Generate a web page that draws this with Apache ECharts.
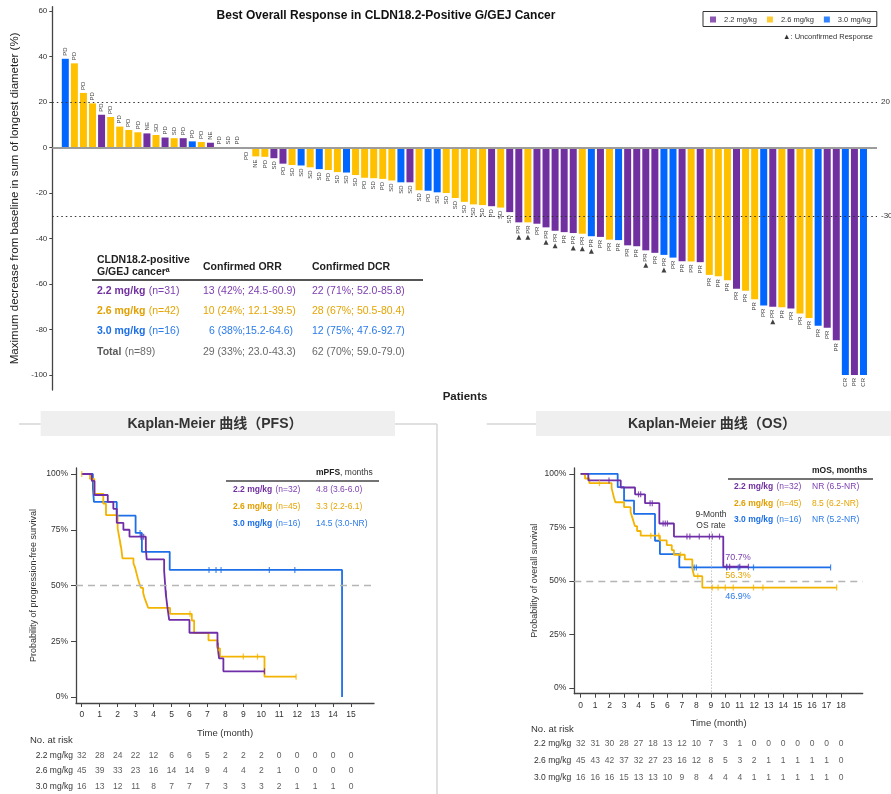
<!DOCTYPE html>
<html>
<head>
<meta charset="utf-8">
<script src="https://cdn.jsdelivr.net/npm/echarts@6/dist/echarts.min.js"></script>
<style>
html,body{margin:0;padding:0;background:#fff;}
#c{width:891px;height:794px;}
</style>
</head>
<body>
<div id="c"></div>
<script>
// ---------------- DATA ----------------
// Waterfall: best % change from baseline, ordered as in the figure
const bestChange = [39, 37, 24, 19.4, 14.4, 13.4, 9.2, 7.7, 6.7, 6.2,
  5.5, 4.4, 4.1, 4.1, 2.7, 2.4, 2.1, 0, 0, 0,
  -0.5, -3.9, -4.1, -4.7, -7.1, -7.7, -7.9, -8.7, -9.5, -9.9,
  -10.8, -11.0, -12.1, -13.3, -13.5, -13.8, -14.5, -15.3, -15.3, -18.8,
  -19.0, -19.7, -20.0, -22.2, -23.9, -25.0, -25.3, -25.8, -26.4, -28.4,
  -32.9, -32.9, -33.5, -35.1, -36.6, -37.2, -37.6, -37.9, -39.0, -39.3,
  -40.5, -40.7, -43.0, -43.4, -45.2, -46.3, -47.2, -48.4, -50.0, -50.1,
  -50.4, -56.0, -56.6, -58.3, -62.1, -63.0, -66.7, -69.5, -70.0, -70.2,
  -70.8, -73.0, -74.9, -78.4, -79.2, -84.7, -100, -100, -100];
const doseOfPatient = ['3.0','2.6','2.6','2.6','2.2','2.6','2.6','2.6','2.6','2.2',
  '2.6','2.2','2.6','2.2','3.0','2.6','2.2','2.2','2.6','2.6',
  '2.2','2.6','2.6','2.2','2.2','2.6','3.0','2.6','3.0','2.6',
  '2.6','3.0','2.6','2.6','2.6','2.6','2.6','3.0','2.2','2.6',
  '3.0','3.0','2.6','2.6','2.6','2.6','2.6','2.2','2.6','2.2',
  '2.2','2.6','2.2','2.2','2.2','2.2','2.2','2.6','3.0','2.2',
  '2.6','3.0','2.2','2.2','2.2','2.2','3.0','3.0','2.2','2.6',
  '2.2','2.6','2.6','2.6','2.2','2.6','2.6','3.0','2.2','2.6',
  '2.2','2.6','2.6','3.0','2.2','2.2','3.0','2.2','3.0'];
const bestResponse = ['PD','PD','PD','PD','PD','PD','PD','PD','PD','NE',
  'SD','PD','SD','PD','PD','PD','NE','PD','SD','PD',
  'PD','NE','PD','SD','PD','SD','SD','SD','SD','PD',
  'SD','SD','SD','PD','SD','PD','SD','SD','SD','SD',
  'PD','SD','SD','SD','SD','SD','SD','PD','SD','SD',
  'PR','PR','PR','PR','PR','PR','PR','PR','PR','PR',
  'PR','PR','PR','PR','PR','PR','PR','PR','PR','PR',
  'PR','PR','PR','PR','PR','PR','PR','PR','PR','PR',
  'PR','PR','PR','PR','PR','PR','CR','PR','CR'];
const unconfirmedPatients = [51, 52, 54, 55, 57, 58, 59, 65, 67, 79];
const doseNames = ['2.2 mg/kg', '2.6 mg/kg', '3.0 mg/kg'];
const waterfallTicks = [60, 40, 20, 0, -20, -40, -60, -80, -100];
const thresholdLines = [20, -30];

// Response table
const tableHeader = ['Confirmed ORR', 'Confirmed DCR'];
const tableRowDose = ['2.2 mg/kg', '2.6 mg/kg', '3.0 mg/kg', 'Total'];
const tableRowN = ['(n=31)', '(n=42)', '(n=16)', '(n=89)'];
const tableORR = ['13 (42%; 24.5-60.9)', '10 (24%; 12.1-39.5)', '6 (38%;15.2-64.6)', '29 (33%; 23.0-43.3)'];
const tableDCR = ['22 (71%; 52.0-85.8)', '28 (67%; 50.5-80.4)', '12 (75%; 47.6-92.7)', '62 (70%; 59.0-79.0)'];

// Kaplan-Meier PFS  [month, survival %]
const pfs22 = [[0,100],[0.56,96.9],[0.71,90.6],[1.45,87.5],[1.76,84.4],[1.95,78.1],[2.32,75.0],[2.66,71.9],[3.57,66.3],[3.62,61.7],[4.59,56.6],[4.68,46.4],[4.77,40.4],[4.87,34.6],[6.0,28.8],[7.56,23.0],[7.65,17.3],[7.89,11.5],[10.18,11.5]];
const pfs22Cens = [[3.3,71.9],[3.45,71.9],[4.7,46.4],[7.6,23.0],[10.18,11.5]];
const pfs26 = [[0,100],[0.46,97.8],[0.7,91.1],[1.2,86.7],[1.35,81.6],[2.0,75.6],[2.1,71.1],[2.2,66.7],[2.27,62.2],[2.88,60.0],[2.98,57.8],[3.05,55.5],[3.12,53.3],[3.2,51.1],[3.3,48.9],[3.42,46.7],[3.5,44.4],[3.6,42.2],[3.7,40.0],[4.92,37.3],[6.13,34.3],[6.26,28.6],[7.06,25.4],[7.56,21.8],[7.7,18.1],[10.18,9.1],[11.94,9.1]];
const pfs26Cens = [[0,100],[2.15,68.9],[6.03,37.3],[7.6,21.8],[9.0,18.1],[9.79,18.1],[11.94,9.1]];
const pfs30 = [[0,100],[0.62,93.8],[0.68,87.5],[1.95,81.3],[3.0,73.6],[3.35,65.1],[4.9,57.0],[14.5,0]];
const pfs30Cens = [[3.25,73.6],[7.09,57.0],[7.48,57.0],[7.76,57.0],[10.45,57.0],[11.87,57.0]];
const pfsMedian = ['4.8 (3.6-6.0)', '3.3 (2.2-6.1)', '14.5 (3.0-NR)'];
const pfsN = ['(n=32)', '(n=45)', '(n=16)'];
const pfsMonths = [0,1,2,3,4,5,6,7,8,9,10,11,12,13,14,15];
const pfsRisk22 = [32,28,24,22,12,6,6,5,2,2,2,0,0,0,0,0];
const pfsRisk26 = [45,39,33,23,16,14,14,9,4,4,2,1,0,0,0,0];
const pfsRisk30 = [16,13,12,11,8,7,7,7,3,3,3,2,1,1,1,0];

// Kaplan-Meier OS
const os22 = [[0,100],[0.53,96.9],[2.77,93.6],[3.76,90.4],[4.45,86.3],[5.44,76.8],[6.45,70.7],[9.86,56.6],[11.6,56.6]];
const os22Cens = [[1.96,96.9],[4.0,90.4],[4.15,90.4],[4.8,86.3],[4.95,86.3],[5.7,76.8],[5.85,76.8],[6.0,76.8],[7.35,70.7],[7.55,70.7],[8.2,70.7],[8.9,70.7],[9.1,70.7],[9.6,70.7],[10.1,56.6],[10.3,56.6],[11.0,56.6],[11.6,56.6]];
const os26 = [[0,100],[0.3,97.8],[0.6,95.6],[2.14,93.3],[2.22,91.1],[2.3,88.9],[2.4,86.7],[3.0,84.4],[3.45,82.2],[3.55,80.0],[3.65,77.8],[3.75,75.6],[3.9,73.3],[4.15,71.1],[5.48,68.9],[5.95,66.7],[6.3,64.4],[6.45,62.2],[7.2,60.0],[7.72,55.6],[7.85,52.2],[8.41,46.9],[17.7,46.9]];
const os26Cens = [[1.3,95.6],[4.85,71.1],[5.4,71.1],[6.9,62.2],[8.1,52.2],[9.1,46.9],[9.5,46.9],[10.0,46.9],[10.55,46.9],[11.95,46.9],[12.6,46.9],[17.7,46.9]];
const os30 = [[0,100],[2.56,93.75],[3.0,87.5],[3.69,81.25],[5.14,68.75],[5.48,62.5],[6.82,56.3],[17.28,56.3]];
const os30Cens = [[7.85,56.3],[8.0,56.3],[10.1,56.3],[10.9,56.3],[11.95,56.3],[17.28,56.3]];
const osMedian = ['NR (6.5-NR)', '8.5 (6.2-NR)', 'NR (5.2-NR)'];
const osRate9 = ['70.7%', '56.3%', '46.9%'];
const osMonths = [0,1,2,3,4,5,6,7,8,9,10,11,12,13,14,15,16,17,18];
const osRisk22 = [32,31,30,28,27,18,13,12,10,7,3,1,0,0,0,0,0,0,0];
const osRisk26 = [45,43,42,37,32,27,23,16,12,8,5,3,2,1,1,1,1,1,0];
const osRisk30 = [16,16,16,15,13,13,10,9,8,4,4,4,1,1,1,1,1,1,0];
const pctTicks = [0, 25, 50, 75, 100];

// ---------------- STYLE ----------------
const FONT = "'Liberation Sans', Arial, Helvetica, sans-serif";
const CJK = "'Liberation Sans', 'Noto Sans CJK SC', sans-serif";
const barColor = {'2.2': '#7030A0', '2.6': '#FFC000', '3.0': '#0066FF'};
const lineColor = ['#6F2DA8', '#F2B400', '#1C6FE8'];
const textColor = ['#7B3DB0', '#E5A400', '#2A7AEA', '#6A6A6A'];
const boldColor = ['#7030A0', '#E2A000', '#1C6FE8', '#5A5A5A'];

// ---------------- BUILD ----------------
const chart = echarts.init(document.getElementById('c'), null, {renderer: 'canvas'});
const series = [];

const barData = bestChange.map((v, i) => ({
  value: [i + 1, v],
  itemStyle: {color: barColor[doseOfPatient[i]]},
  label: {
    show: true, formatter: bestResponse[i],
    position: v >= 0 ? 'top' : 'bottom',
    align: v >= 0 ? 'left' : 'right', verticalAlign: 'middle',
    rotate: 90, distance: 3, fontSize: 6, color: '#444', fontFamily: FONT
  }
}));
series.push({
  type: 'bar', xAxisIndex: 0, yAxisIndex: 0, barWidth: 7, data: barData, silent: true,
  markLine: {
    symbol: 'none', silent: true, animation: false,
    data: [
      {yAxis: 0, lineStyle: {color: '#9c9c9c', width: 2, type: 'solid'}, label: {show: false}},
      ...thresholdLines.map(t => ({yAxis: t, lineStyle: {color: '#333', width: 1, type: [1.5, 3]},
        label: {show: true, position: 'end', formatter: String(t), fontSize: 8, color: '#333', distance: 4, fontFamily: FONT}}))
    ]
  }
});
doseNames.forEach((n, k) => series.push({
  type: 'scatter', name: n, xAxisIndex: 0, yAxisIndex: 0, data: [],
  itemStyle: {color: barColor[['2.2', '2.6', '3.0'][k]]}
}));
series.push({
  type: 'scatter', xAxisIndex: 0, yAxisIndex: 0, symbol: 'triangle', symbolSize: [5, 5],
  symbolOffset: [0, 15], itemStyle: {color: '#111'}, silent: true,
  data: unconfirmedPatients.map(p => [p, bestChange[p - 1]])
});

function km(data, cens, color, ax) {
  series.push({type: 'line', xAxisIndex: ax, yAxisIndex: ax, step: 'end', symbol: 'none',
    lineStyle: {color: color, width: 1.8}, data: data, silent: true, z: 3});
  series.push({type: 'scatter', xAxisIndex: ax, yAxisIndex: ax, symbol: 'rect', symbolSize: [1.2, 6],
    itemStyle: {color: color}, data: cens, silent: true, z: 4});
}
km(pfs30, pfs30Cens, lineColor[2], 1);
km(pfs26, pfs26Cens, lineColor[1], 1);
km(pfs22, pfs22Cens, lineColor[0], 1);
km(os30, os30Cens, lineColor[2], 2);
km(os26, os26Cens, lineColor[1], 2);
km(os22, os22Cens, lineColor[0], 2);

// 50% reference lines + 9-month line
series.push({type: 'line', xAxisIndex: 1, yAxisIndex: 1, data: [], markLine: {symbol: 'none', silent: true, label: {show: false},
  lineStyle: {color: '#b5b5b5', type: [7, 5], width: 1.3}, data: [{yAxis: 50}]}});
series.push({type: 'line', xAxisIndex: 2, yAxisIndex: 2, data: [], markLine: {symbol: 'none', silent: true, label: {show: false},
  data: [{yAxis: 50, lineStyle: {color: '#b5b5b5', type: [7, 5], width: 1.3}},
    [{coord: [9, 73], lineStyle: {color: '#aaa', type: [1, 2], width: 1}}, {coord: [9, -2.66]}]]}});

function riskSeries(months, rows, ax) {
  const d = [];
  rows.forEach((r, ri) => r.forEach((v, mi) => d.push([months[mi], ri, v])));
  series.push({type: 'scatter', xAxisIndex: ax, yAxisIndex: ax, symbolSize: 1, silent: true,
    itemStyle: {color: 'rgba(0,0,0,0)'}, data: d,
    label: {show: true, position: 'inside', formatter: p => p.value[2], fontSize: 8.5, color: '#333', fontFamily: FONT}});
}
riskSeries(pfsMonths, [pfsRisk22, pfsRisk26, pfsRisk30], 3);
riskSeries(osMonths, [osRisk22, osRisk26, osRisk30], 4);

const axisTxt = {fontSize: 8.5, color: '#333', fontFamily: FONT};
function kmX(grid, min, max, ticks) {
  return {gridIndex: grid, type: 'value', min: min, max: max,
    axisLine: {onZero: false, lineStyle: {color: '#444', width: 1.3}},
    axisTick: {customValues: ticks, length: 4, lineStyle: {color: '#444'}},
    axisLabel: Object.assign({customValues: ticks, margin: 7}, axisTxt),
    splitLine: {show: false},
    name: 'Time (month)', nameLocation: 'middle', nameGap: 25,
    nameTextStyle: {fontSize: 9.5, color: '#333', fontFamily: FONT}};
}
function kmY(grid, min, max, name, gap) {
  return {gridIndex: grid, type: 'value', min: min, max: max,
    axisLine: {show: true, onZero: false, lineStyle: {color: '#444', width: 1.3}},
    axisTick: {show: true, customValues: pctTicks, length: 5, lineStyle: {color: '#444'}},
    axisLabel: Object.assign({customValues: pctTicks, margin: 8, formatter: '{value}%'}, axisTxt),
    splitLine: {show: false},
    name: name, nameLocation: 'middle', nameGap: gap,
    nameTextStyle: {fontSize: 9, color: '#333', fontFamily: FONT}};
}
function riskY(grid) {
  return {gridIndex: grid, type: 'category', inverse: true, data: doseNames,
    axisLine: {show: false}, axisTick: {show: false}, splitLine: {show: false},
    axisLabel: {fontSize: 8.5, color: '#333', margin: 3, fontFamily: FONT}};
}

// Graphic texts
const G = [];
function txt(x, y, text, opt) {
  G.push({type: 'text', x: x, y: y, silent: true,
    style: Object.assign({text: text, fontSize: 10, fontFamily: FONT, fill: '#222', align: 'left', verticalAlign: 'middle'}, opt || {})});
}
function line(x1, y1, x2, y2, color, w) {
  G.push({type: 'line', silent: true, shape: {x1: x1, y1: y1, x2: x2, y2: y2}, style: {stroke: color, lineWidth: w}});
}
// Waterfall titles
txt(386, 16, 'Best Overall Response in CLDN18.2-Positive G/GEJ Cancer', {fontSize: 12, fontWeight: 'bold', align: 'center', fill: '#111'});
txt(465, 397, 'Patients', {fontSize: 11.5, fontWeight: 'bold', align: 'center', fill: '#222'});
txt(873, 37, '▲: Unconfirmed Response', {fontSize: 7.5, align: 'right', fill: '#333'});
// Response table
txt(97, 260, 'CLDN18.2-positive', {fontSize: 10.5, fontWeight: 'bold'});
txt(97, 272, 'G/GEJ cancerᵃ', {fontSize: 10.5, fontWeight: 'bold'});
txt(203, 267, tableHeader[0], {fontSize: 10.5, fontWeight: 'bold'});
txt(312, 267, tableHeader[1], {fontSize: 10.5, fontWeight: 'bold'});
line(92, 280, 423, 280, '#555', 2);
const rowY = [291, 311, 331, 352];
tableRowDose.forEach((d, i) => {
  G.push({type: 'text', x: 97, y: rowY[i], silent: true, style: {
    text: '{b|' + d + '} {n|' + tableRowN[i] + '}', verticalAlign: 'middle', fontFamily: FONT,
    rich: {b: {fontSize: 10.5, fontWeight: 'bold', fill: boldColor[i], color: boldColor[i], fontFamily: FONT},
           n: {fontSize: 10.5, fill: textColor[i], color: textColor[i], fontFamily: FONT}}}});
  txt(i === 2 ? 209 : 203, rowY[i], tableORR[i], {fontSize: 10.5, fill: textColor[i]});
  txt(312, rowY[i], tableDCR[i], {fontSize: 10.5, fill: textColor[i]});
});

// KM panel frames & title bands
G.push({type: 'rect', silent: true, shape: {x: 40.7, y: 411, width: 354.3, height: 25}, style: {fill: '#EFEFEF'}});
G.push({type: 'rect', silent: true, shape: {x: 536, y: 411, width: 355, height: 25}, style: {fill: '#EFEFEF'}});
line(19, 424, 40.7, 424, '#d6d6d6', 1.5);
line(395, 424, 437, 424, '#d6d6d6', 1.5);
line(437, 424, 437, 794, '#d6d6d6', 1.5);
line(486.7, 424, 536, 424, '#d6d6d6', 1.5);
txt(215, 424, 'Kaplan-Meier 曲线（PFS）', {fontSize: 14, fontWeight: 'bold', align: 'center', fontFamily: CJK, fill: '#333'});
txt(712, 424, 'Kaplan-Meier 曲线（OS）', {fontSize: 14, fontWeight: 'bold', align: 'center', fontFamily: CJK, fill: '#333'});

// PFS legend table
G.push({type: 'text', x: 316, y: 473, silent: true, style: {text: '{b|mPFS}{n|, months}', verticalAlign: 'middle',
  rich: {b: {fontSize: 8.5, fontWeight: 'bold', fill: '#222', fontFamily: FONT}, n: {fontSize: 8.5, fill: '#333', fontFamily: FONT}}}});
line(226, 481, 379, 481, '#444', 1.3);
const pfsRowY = [490, 507, 524];
doseNames.forEach((d, i) => {
  G.push({type: 'text', x: 233, y: pfsRowY[i], silent: true, style: {text: '{b|' + d + '} {n|' + pfsN[i] + '}', verticalAlign: 'middle',
    rich: {b: {fontSize: 8.5, fontWeight: 'bold', fill: boldColor[i], fontFamily: FONT}, n: {fontSize: 8.5, fill: textColor[i], fontFamily: FONT}}}});
  txt(316, pfsRowY[i], pfsMedian[i], {fontSize: 8.5, fill: textColor[i]});
});
// OS legend table
txt(812, 471, 'mOS, months', {fontSize: 8.5, fontWeight: 'bold', fill: '#222'});
line(728, 479, 873, 479, '#444', 1.3);
const osRowY = [487, 504, 520];
doseNames.forEach((d, i) => {
  G.push({type: 'text', x: 734, y: osRowY[i], silent: true, style: {text: '{b|' + d + '} {n|' + pfsN[i] + '}', verticalAlign: 'middle',
    rich: {b: {fontSize: 8.5, fontWeight: 'bold', fill: boldColor[i], fontFamily: FONT}, n: {fontSize: 8.5, fill: textColor[i], fontFamily: FONT}}}});
  txt(812, osRowY[i], osMedian[i], {fontSize: 8.5, fill: textColor[i]});
});
txt(711, 515, '9-Month', {fontSize: 8.5, align: 'center', fill: '#333'});
txt(711, 525.5, 'OS rate', {fontSize: 8.5, align: 'center', fill: '#333'});
const rateY = [558, 576, 597];
osRate9.forEach((r, i) => txt(738, rateY[i], r, {fontSize: 9, align: 'center', fill: textColor[i]}));
txt(30, 740, 'No. at risk', {fontSize: 9.5, fill: '#333'});
txt(531, 729, 'No. at risk', {fontSize: 9.5, fill: '#333'});

const option = {
  animation: false,
  backgroundColor: '#fff',
  textStyle: {fontFamily: FONT},
  legend: {
    data: doseNames, left: 703, top: 11.5, orient: 'horizontal',
    icon: 'rect', itemWidth: 6, itemHeight: 6, itemGap: 10,
    borderColor: '#333', borderWidth: 1, padding: [4, 6, 3, 7],
    textStyle: {fontSize: 7.5, color: '#333', fontFamily: FONT, padding: [0, 0, 0, 3]},
    selectedMode: false
  },
  grid: [
    {left: 52.3, top: 6.7, width: 824.7, height: 383.3},
    {left: 76, top: 468, width: 298, height: 235},
    {left: 574.3, top: 468, width: 288.4, height: 225.7},
    {left: 76, top: 747.5, width: 298, height: 51},
    {left: 574.3, top: 735.5, width: 288.4, height: 51}
  ],
  xAxis: [
    {gridIndex: 0, type: 'value', min: -0.433, max: 90.49, show: false},
    kmX(1, -0.32, 16.28, pfsMonths),
    kmX(2, -0.44, 19.5, osMonths),
    {gridIndex: 3, type: 'value', min: -0.32, max: 16.28, show: false},
    {gridIndex: 4, type: 'value', min: -0.44, max: 19.5, show: false}
  ],
  yAxis: [
    {gridIndex: 0, type: 'value', min: -106.6, max: 61.9,
      axisLine: {show: true, onZero: false, lineStyle: {color: '#444', width: 1.3}},
      axisTick: {show: true, customValues: waterfallTicks, length: 3, lineStyle: {color: '#444'}},
      axisLabel: {customValues: waterfallTicks, fontSize: 8, color: '#333', margin: 5, fontFamily: FONT},
      splitLine: {show: false},
      name: 'Maximum decrease from baseline in sum of longest diameter (%)', nameLocation: 'middle', nameGap: 31,
      nameTextStyle: {fontSize: 11.5, color: '#222', fontFamily: FONT}},
    kmY(1, -2.7, 102.7, 'Probability of progression-free survival', 38),
    kmY(2, -2.66, 102.7, 'Probability of overall survival', 35),
    riskY(3),
    riskY(4)
  ],
  graphic: G,
  series: series
};
chart.setOption(option);
</script>
</body>
</html>
